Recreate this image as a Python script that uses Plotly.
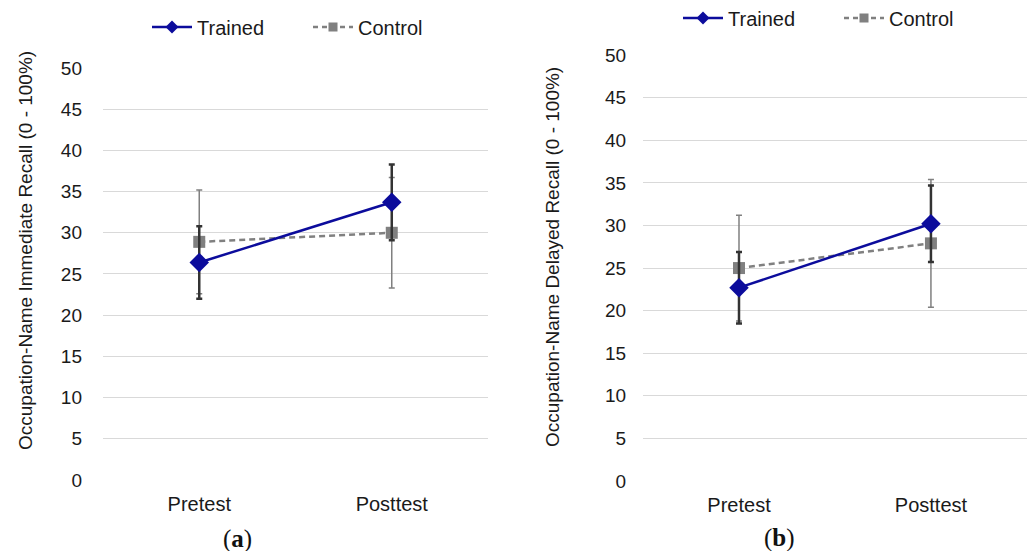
import plotly.graph_objects as go

categories = ["Pretest", "Posttest"]
y_ticks = [0, 5, 10, 15, 20, 25, 30, 35, 40, 45, 50]

# Panel (a): immediate recall
imm_trained = [26.4, 33.7]
imm_trained_err = [4.4, 4.6]
imm_control = [28.9, 30.0]
imm_control_err = [6.3, 6.7]

# Panel (b): delayed recall
del_trained = [22.7, 30.2]
del_trained_err = [4.2, 4.5]
del_control = [25.0, 27.9]
del_control_err = [6.2, 7.5]

BLUE = "#0C0C9C"
GRAY = "#808080"
FONT = "Liberation Sans, Arial, sans-serif"
TXT = "#1a1a1a"

fig = go.Figure()

def add_panel(tr, tr_err, ct, ct_err, xa, ya, leg):
    fig.add_trace(go.Scatter(
        x=categories, y=ct, name="Control", mode="lines+markers",
        line=dict(color=GRAY, width=2.5, dash="6px,4px"),
        marker=dict(symbol="square", size=12, color=GRAY),
        error_y=dict(type="data", array=ct_err, visible=True, color=GRAY, thickness=1.5, width=3),
        xaxis=xa, yaxis=ya, showlegend=False))
    fig.add_trace(go.Scatter(
        x=categories, y=tr, name="Trained", mode="lines+markers",
        line=dict(color=BLUE, width=2.5),
        marker=dict(symbol="diamond", size=15, color=BLUE),
        error_y=dict(type="data", array=tr_err, visible=True, color="#333333", thickness=2.5, width=3),
        xaxis=xa, yaxis=ya, showlegend=False))
    # legend entries (small symbols, like the reference legend)
    fig.add_trace(go.Scatter(
        x=[None], y=[None], name="Trained", mode="lines+markers",
        line=dict(color=BLUE, width=2.5),
        marker=dict(symbol="diamond", size=10, color=BLUE),
        xaxis=xa, yaxis=ya, legend=leg, legendrank=1))
    fig.add_trace(go.Scatter(
        x=[None], y=[None], name="Control", mode="lines+markers",
        line=dict(color=GRAY, width=2.5, dash="5px,4px"),
        marker=dict(symbol="square", size=9, color=GRAY),
        xaxis=xa, yaxis=ya, legend=leg, legendrank=2))

add_panel(imm_trained, imm_trained_err, imm_control, imm_control_err, "x", "y", "legend")
add_panel(del_trained, del_trained_err, del_control, del_control_err, "x2", "y2", "legend2")

tick_font = dict(family=FONT, size=19, color=TXT)
axis_common = dict(showline=False, zeroline=False, ticks="", tickfont=tick_font)
xfont = dict(family=FONT, size=20, color=TXT)

legend_common = dict(orientation="h", xanchor="left", yanchor="middle",
                     font=dict(family=FONT, size=20, color=TXT),
                     itemwidth=40, entrywidth=106, entrywidthmode="pixels",
                     bgcolor="rgba(0,0,0,0)", traceorder="normal",
                     borderwidth=0)

fig.update_layout(
    width=1030, height=551,
    margin=dict(l=0, r=0, t=0, b=0, autoexpand=False),
    paper_bgcolor="white", plot_bgcolor="white",
    font=dict(family=FONT, color=TXT),
    xaxis=dict(domain=[0.1, 0.4738], range=[-0.5, 1.5], showgrid=False,
               ticklabelstandoff=10, showline=False, zeroline=False, ticks="", tickfont=xfont),
    yaxis=dict(domain=[0.1289, 0.8766], range=[0, 50], tickvals=y_ticks,
               showgrid=True, gridcolor="#D9D9D9", gridwidth=1,
               ticklabelstandoff=20, **axis_common),
    xaxis2=dict(domain=[0.6243, 0.997], range=[-0.5, 1.5], showgrid=False,
                anchor="y2", ticklabelstandoff=10, showline=False, zeroline=False, ticks="",
                tickfont=xfont),
    yaxis2=dict(domain=[0.127, 0.9], range=[0, 50], tickvals=y_ticks,
                anchor="x2", showgrid=True, gridcolor="#D9D9D9", gridwidth=1,
                ticklabelstandoff=16, **axis_common),
    legend=dict(x=147 / 1030, y=1 - 27 / 551, **legend_common),
    legend2=dict(x=678 / 1030, y=1 - 18 / 551, **legend_common),
    showlegend=True,
)

annotations = [
    dict(text="Occupation-Name Immediate Recall (0 - 100%)", x=25 / 1030, y=1 - 251 / 551,
         xref="paper", yref="paper", textangle=-90, showarrow=False,
         xanchor="center", yanchor="middle",
         font=dict(family=FONT, size=19, color=TXT)),
    dict(text="Occupation-Name Delayed Recall (0 - 100%)", x=552 / 1030, y=1 - 257 / 551,
         xref="paper", yref="paper", textangle=-90, showarrow=False,
         xanchor="center", yanchor="middle",
         font=dict(family=FONT, size=19, color=TXT)),
    dict(text="(<b>a</b>)", x=237 / 1030, y=1 - 539 / 551, xref="paper", yref="paper",
         xanchor="center", yanchor="middle",
         showarrow=False, font=dict(family="Liberation Serif, serif", size=25, color="#111111")),
    dict(text="(<b>b</b>)", x=779 / 1030, y=1 - 538 / 551, xref="paper", yref="paper",
         xanchor="center", yanchor="middle",
         showarrow=False, font=dict(family="Liberation Serif, serif", size=25, color="#111111")),
]
fig.update_layout(annotations=annotations)

fig.write_html("out.html", config={"displayModeBar": False},
               post_script="document.body.style.margin='0px';")
